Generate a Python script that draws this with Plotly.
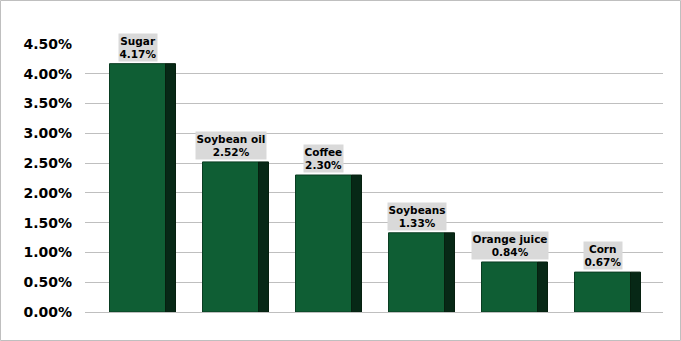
import plotly.graph_objects as go

categories = ["Sugar", "Soybean oil", "Coffee", "Soybeans", "Orange juice", "Corn"]
values = [4.17, 2.52, 2.30, 1.33, 0.84, 0.67]
tick_vals = [0, 0.5, 1, 1.5, 2, 2.5, 3, 3.5, 4, 4.5]
tick_text = ["%.2f%%" % v for v in tick_vals]

W, H = 681, 341
L, R, T, B = 85, 18, 44, 29
pw = W - L - R
ph = H - T - B
unit = 93.0
half = pw / unit / 2
xr = [2.5 - half, 2.5 + half]

front_w = 56 / unit
side_w = 10 / unit
tot = front_w + side_w

xs = list(range(len(categories)))
fig = go.Figure()
fig.add_trace(go.Bar(x=xs, y=values, width=front_w, offset=-tot / 2 + 1 / unit,
                     marker=dict(color="#0f5e34", line=dict(color="#0a3d22", width=1)),
                     hoverinfo="skip"))
fig.add_trace(go.Bar(x=xs, y=values, width=side_w, offset=-tot / 2 + 1 / unit + front_w,
                     marker=dict(color="#072816", line=dict(color="#06200f", width=1)),
                     hoverinfo="skip"))

for i, (c, v) in enumerate(zip(categories, values)):
    fig.add_annotation(x=i - tot / 2 + 1 / unit + front_w / 2, y=v, yshift=2, yanchor="bottom",
                       text="<b>%s<br>%.2f%%</b>" % (c, v), showarrow=False,
                       font=dict(family="DejaVu Sans", size=10.5, color="#000"),
                       bgcolor="#d9d9d9", borderpad=0.5)

fig.add_shape(type="rect", xref="paper", yref="paper",
              x0=(0.5 - L) / pw, x1=(W - 0.5 - L) / pw,
              y0=-(H - 0.5 - T - ph) / ph, y1=1 + (T - 0.5) / ph,
              line=dict(color="#bfbfbf", width=1), layer="below")

fig.update_layout(
    width=W, height=H, margin=dict(l=L, r=R, t=T, b=B),
    paper_bgcolor="white", plot_bgcolor="white",
    barmode="overlay", showlegend=False,
    xaxis=dict(range=xr, showticklabels=False, showgrid=False, zeroline=False, ticks=""),
    yaxis=dict(range=[0, 4.5], tickvals=tick_vals, ticktext=tick_text,
               showgrid=True, gridcolor="#bfbfbf", gridwidth=1,
               zeroline=True, zerolinecolor="#bfbfbf", zerolinewidth=1,
               tickfont=dict(family="DejaVu Sans", size=14, color="#000", weight="bold"),
               ticks="", ticklabelstandoff=12),
)
fig.write_html("out.html")
